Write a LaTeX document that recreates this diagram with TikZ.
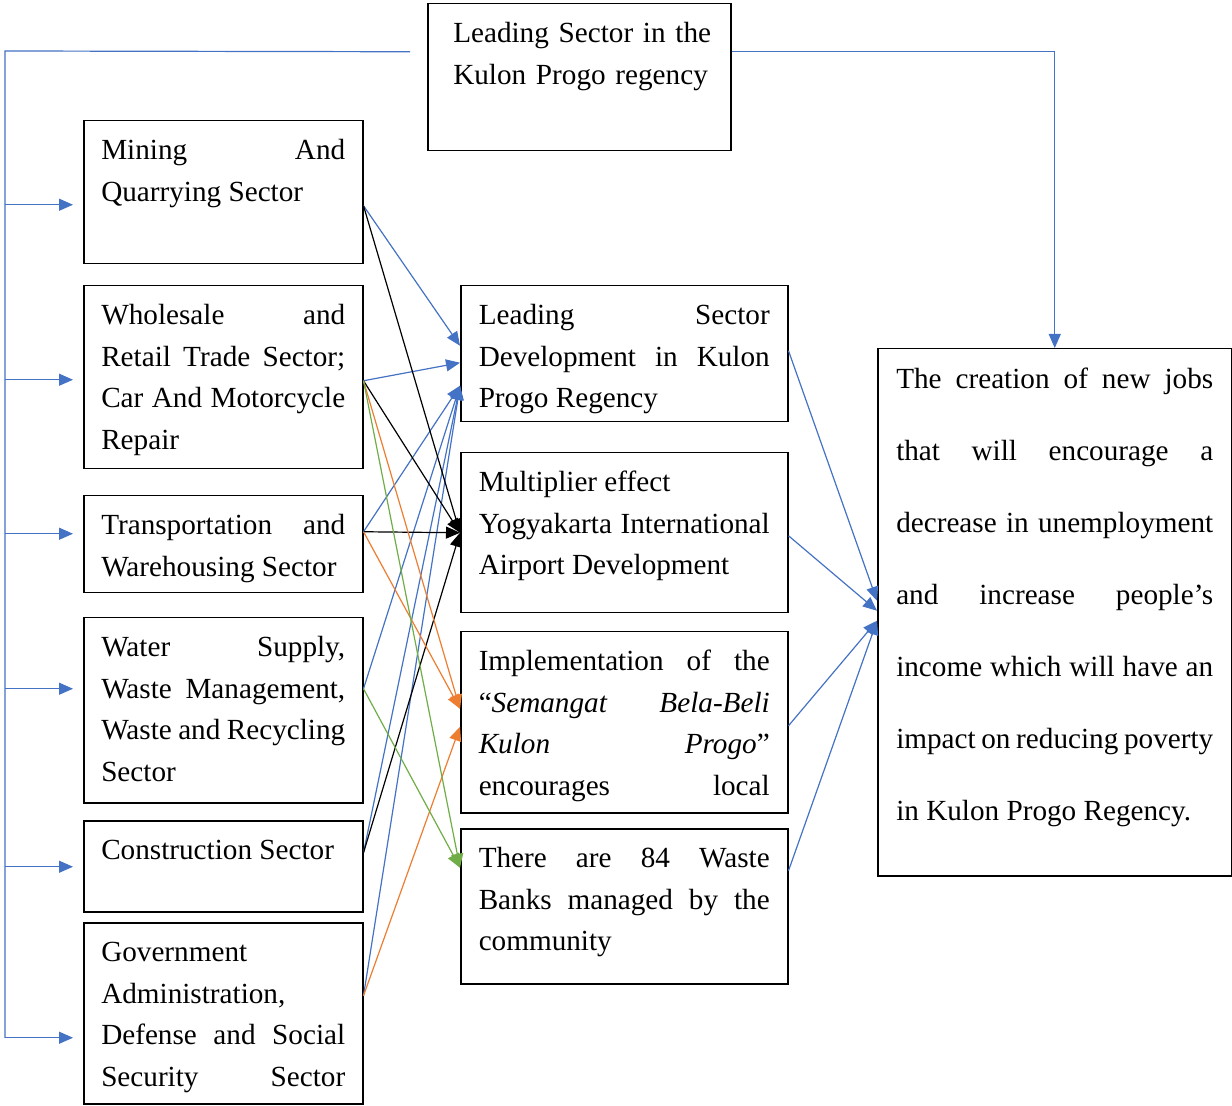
\documentclass[tikz,border=0pt]{standalone}
\usepackage{fontspec}
\setmainfont{Liberation Serif}
\usetikzlibrary{arrows.meta}

\definecolor{linkblue}{RGB}{68,114,196}
\definecolor{linkorange}{RGB}{237,125,49}
\definecolor{linkgreen}{RGB}{112,173,71}

\newcommand{\boxfont}{\fontsize{14.6pt}{20.8pt}\selectfont\spaceskip=.25em plus .25em minus .12em}
\newcommand{\widefont}{\fontsize{14.6pt}{36pt}\selectfont\spaceskip=.25em plus .25em minus .12em}

\tikzset{
  sector/.style={draw, line width=0.75pt, anchor=north west, inner xsep=8.75pt, inner ysep=0pt,
    text width=122pt, align=justify, text height=19.5pt, font=\boxfont},
  effect/.style={sector, inner xsep=9pt, text width=145.5pt},
  link/.style={line width=0.6pt, -{Triangle[length=7pt,width=6pt]}},
}

\begin{document}
\begin{tikzpicture}[x=0.5pt, y=-0.5pt]
  \useasboundingbox (0,0) rectangle (1232,1106);

  \node[sector, inner xsep=12.75pt, text width=126pt, align=left, text depth=54pt] (lead) at (427,3) {\mbox{Leading Sector in the}\\ \mbox{Kulon Progo regency}};

  \node[sector, text depth=52pt] (mining) at (83,120) {Mining And\linebreak Quarrying Sector};
  \node[sector, text depth=72pt] (trade) at (83,285) {Wholesale and\linebreak Retail Trade Sector;\linebreak Car And Motorcycle\linebreak Repair};
  \node[sector, text depth=29pt] (transport) at (83,495) {Transportation and\linebreak Warehousing Sector};
  \node[sector, text depth=73pt] (water) at (83,617) {Water Supply,\linebreak Waste Management,\linebreak Waste and Recycling\linebreak Sector};
  \node[sector, text depth=26pt] (construction) at (83,820) {Construction Sector};
  \node[sector, text depth=71pt] (government) at (83,922) {Government\newline Administration,\newline Defense and Social\linebreak Security\hfill Sector};

  \node[effect, text depth=48.5pt] (development) at (460,285) {Leading Sector\linebreak Development in Kulon\linebreak Progo Regency};
  \node[effect, text depth=60.5pt] (multiplier) at (460,452) {Multiplier effect\newline Yogyakarta International\linebreak Airport Development};
  \node[effect, text depth=71pt] (belabeli) at (460,631) {Implementation of the\linebreak “\textit{Semangat} \textit{Bela-Beli}\linebreak \textit{Kulon} \textit{Progo}”\linebreak encourages\hfill local};
  \node[effect, text depth=58pt] (wastebank) at (460,828) {There are 84 Waste\linebreak Banks managed by the\linebreak community};

  \node[sector, inner xsep=9.25pt, text width=158.5pt, text height=20pt, text depth=243.5pt, font=\widefont] (jobs) at (877,348) {The creation of new jobs\linebreak that will encourage a\linebreak decrease in unemployment\linebreak and increase people's\linebreak income which will have an\linebreak impact on reducing poverty\linebreak in Kulon Progo Regency.};

  % leading sector -> every sector, and -> new jobs
  \coordinate (busstart) at ([shift={(-17,-25.5)}]lead.west);
  \coordinate (bus) at (5,51);
  \foreach \n/\dy in {mining/12.5, trade/2.5, transport/-10.5, water/-21.5, construction/0.5, government/24.5}{
    \coordinate (\n-in) at ([shift={(-10,\dy)}]\n.west);
    \draw[link, linkblue] (bus |- \n-in) -- (\n-in);
  }
  \draw[linkblue, line width=0.6pt] (busstart) -- (bus) -- (bus |- government-in);
  \draw[link, linkblue] ([yshift=12.75pt]lead.east) -| (jobs.north);

  % sectors -> effects
  \coordinate (mining-out) at ([yshift=-6.75pt]mining.east);
  \coordinate (trade-out) at ([yshift=-1.75pt]trade.east);
  \coordinate (transport-out) at ([yshift=6.25pt]transport.east);
  \coordinate (water-out) at ([yshift=10.75pt]water.east);
  \coordinate (construction-out) at ([yshift=6.75pt]construction.east);
  \coordinate (government-out) at ([yshift=8.75pt]government.east);

  \draw[link, linkblue] (mining-out) -- ([yshift=4pt]development.west);
  \draw[link, linkblue] (trade-out) -- ([yshift=-4.5pt]development.west);
  \foreach \n in {transport, water, construction, government}
    \draw[link, linkblue] (\n-out) -- ([yshift=-16pt]development.west);
  \foreach \n in {mining, trade, transport, construction}
    \draw[link] (\n-out) -- (multiplier.west);
  \draw[link, linkorange] (trade-out) -- ([yshift=6.75pt]belabeli.west);
  \draw[link, linkorange] (transport-out) -- ([yshift=6.75pt]belabeli.west);
  \draw[link, linkorange] (government-out) -- ([yshift=-2.25pt]belabeli.west);
  \draw[link, linkgreen] (trade-out) -- ([yshift=19.25pt]wastebank.west);
  \draw[link, linkgreen] (water-out) -- ([yshift=19.25pt]wastebank.west);

  % effects -> new jobs
  \draw[link, linkblue] ([yshift=1.5pt]development.east) -- ([yshift=5.75pt]jobs.west);
  \draw[link, linkblue] ([yshift=-1.5pt]multiplier.east) -- ([yshift=0.75pt]jobs.west);
  \draw[link, linkblue] ([yshift=-1.75pt]belabeli.east) -- ([yshift=-4.25pt]jobs.west);
  \draw[link, linkblue] ([yshift=17.75pt]wastebank.east) -- ([yshift=-4.25pt]jobs.west);
\end{tikzpicture}
\end{document}
